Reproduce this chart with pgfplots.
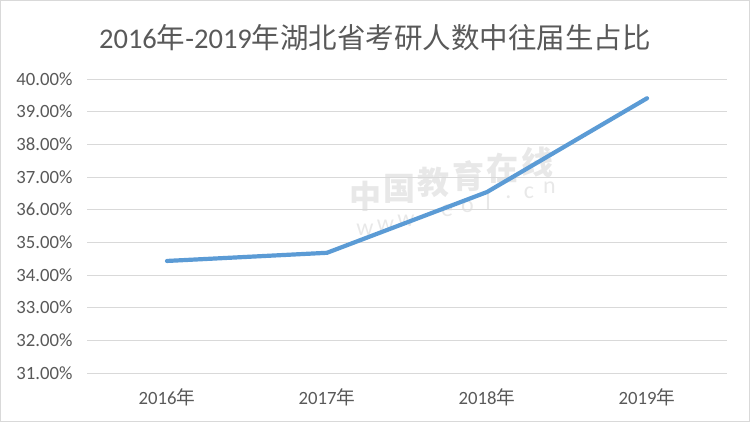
\documentclass[border=0pt]{standalone}
\usepackage{pgfplots}
\pgfplotsset{compat=1.18}
\usepackage{fontspec}
\setmainfont{Carlito}
\newfontfamily\cjk{Noto Sans CJK SC}
\definecolor{linec}{HTML}{5B9BD5}
\definecolor{gridc}{HTML}{D9D9D9}
\definecolor{txt}{HTML}{595959}
\begin{document}
\begin{tikzpicture}[x=1bp,y=1bp]
\draw[gridc, line width=1bp, fill=white] (0.5,0.5) rectangle (749.5,421.5);
\node[text=txt, font=\fontsize{28.5bp}{32bp}\selectfont] at (375,384) {2016{\cjk 年}-2019{\cjk 年湖北省考研人数中往届生占比}};
% watermark, one glyph per node along a slanted line
\foreach \c [count=\i from 0] in {中,国,教,育,在,线}
  \node[text=black, opacity=0.09, inner sep=0pt, font=\cjk\bfseries\fontsize{32bp}{34bp}\selectfont]
    at ({365+34.4*\i},{226+6.8*\i}) {\c};
\foreach \c [count=\i from 0] in {w,w,w,.,e,o,l,.,c,n}
  \node[text=black, opacity=0.09, inner sep=0pt, font=\fontsize{24bp}{26bp}\selectfont]
    at ({365+20.5*\i},{192+4.7*\i}) {\c};
\begin{axis}[
  at={(87bp,49bp)}, anchor=south west,
  scale only axis, width=640bp, height=294bp,
  xmin=-0.5, xmax=3.5, ymin=31, ymax=40,
  xtick={0,1,2,3},
  xticklabels={2016{\cjk 年},2017{\cjk 年},2018{\cjk 年},2019{\cjk 年}},
  ytick={31,32,...,40},
  yticklabel={\pgfmathprintnumber[fixed,fixed zerofill,precision=2]{\tick}\%},
  /pgf/number format/assume math mode=true,
  axis line style={draw=none},
  major tick length=0pt,
  ymajorgrids, grid style={gridc, line width=1bp},
  tick label style={font=\fontsize{18.7bp}{22bp}\selectfont, text=txt},
  yticklabel style={anchor=east, xshift=-11bp},
  xticklabel style={anchor=center, yshift=-24bp},
  clip=false,
]
\addplot[linec, line width=4.2bp, line cap=round, line join=round] coordinates {
 (0,34.43) (1,34.68) (2,36.54) (3,39.41)
};
\end{axis}
\end{tikzpicture}
\end{document}
